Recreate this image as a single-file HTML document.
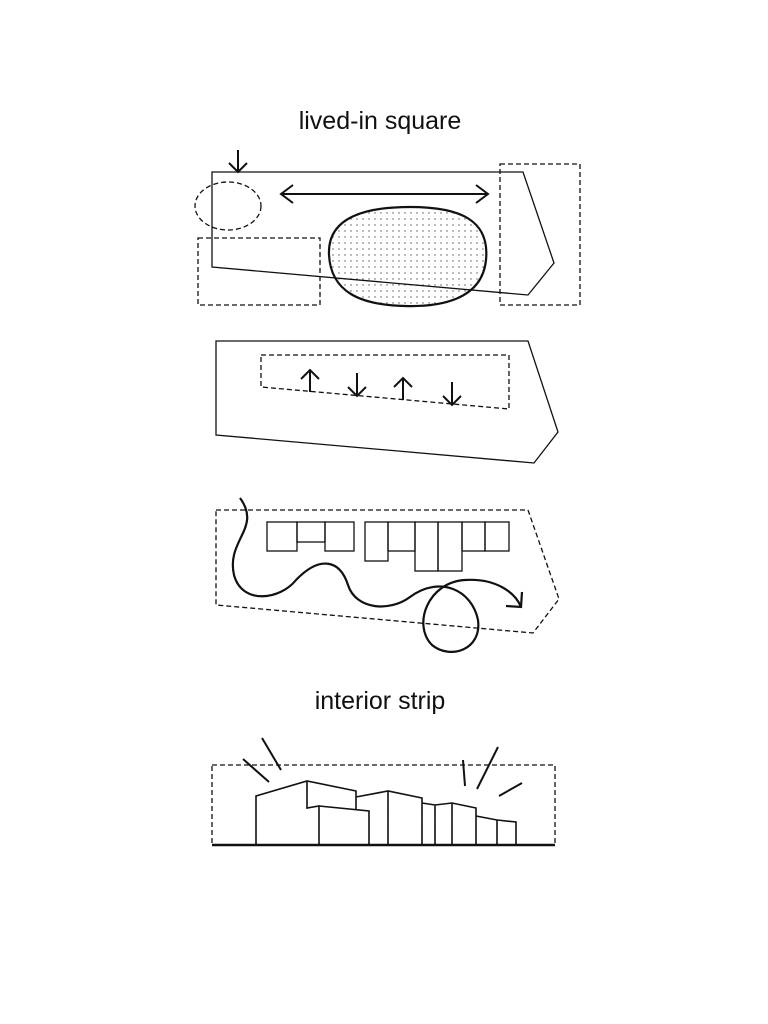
<!DOCTYPE html>
<html><head><style>
body{margin:0;background:#fff;width:768px;height:1024px;overflow:hidden}
svg{display:block}
text{font-family:"Liberation Sans",sans-serif;font-size:25px;fill:#111}
</style></head><body>
<svg width="768" height="1024" viewBox="0 0 768 1024">
<defs>
<pattern id="dots" width="6" height="6" patternUnits="userSpaceOnUse"><circle cx="3" cy="3" r="0.7" fill="#555"/></pattern>
</defs>
<text x="380" y="129" text-anchor="middle">lived-in square</text>
<text x="380" y="709" text-anchor="middle">interior strip</text>
<g fill="none" stroke="#111" stroke-width="1.3">
<!-- diagram 1 -->
<path d="M329,255 C327,215 370,207 410,207 C460,207 490,220 486,260 C482,300 440,307 405,306 C360,305 331,292 329,255Z" fill="url(#dots)" stroke-width="2.2"/>
<polygon points="212,172 523,172 554,263 528,295 212,267"/>
<ellipse cx="228" cy="206" rx="33" ry="24" stroke-dasharray="5,3"/>
<rect x="198" y="238" width="122" height="67" stroke-dasharray="5,3"/>
<rect x="500" y="164" width="80" height="141" stroke-dasharray="5,3"/>
<g stroke-width="2">
<path d="M238,150 V172 M229,163 L238,172 L247,163"/>
<path d="M281,194 H488 M293,185 L281,194 L293,203 M476,185 L488,194 L476,203"/>
</g>
<!-- diagram 2 -->
<polygon points="216,341 528,341 558,432 534,463 216,435"/>
<polygon points="261,355 509,355 509,409 261,387" stroke-dasharray="5,3"/>
<g stroke-width="2">
<path d="M310,392 V370 M301,379 L310,370 L319,379"/>
<path d="M357,373 V396 M348,387 L357,396 L366,387"/>
<path d="M403,400 V378 M394,387 L403,378 L412,387"/>
<path d="M452,382 V405 M443,396 L452,405 L461,396"/>
</g>
<!-- diagram 3 -->
<polygon points="216,510 528,510 559,599 533,633 216,605" stroke-dasharray="5,3"/>
<rect x="267" y="522" width="30" height="29"/>
<rect x="297" y="522" width="28" height="20"/>
<rect x="325" y="522" width="29" height="29"/>
<rect x="365" y="522" width="23" height="39"/>
<rect x="388" y="522" width="27" height="29"/>
<rect x="415" y="522" width="23" height="49"/>
<rect x="438" y="522" width="24" height="49"/>
<rect x="462" y="522" width="23" height="29"/>
<rect x="485" y="522" width="24" height="29"/>
<path stroke-width="2.2" d="M240,498 C262,528 226,540 234,575 C242,605 280,600 296,580 C320,555 340,560 348,585 C356,610 390,612 410,597 C440,575 472,590 478,620 C482,650 450,660 432,645 C412,625 428,582 465,580 C495,578 515,592 521,607 M506,606 L521,607 L522,592"/>
<!-- diagram 4 -->
<rect x="212" y="765" width="343" height="80" stroke-dasharray="5,3"/>
<path stroke-width="2.5" d="M212,845 H555"/>
<g stroke-width="2">
<path d="M243,759 L269,782 M262,738 L281,770 M463,760 L465,786 M498,747 L477,789 M522,783 L499,796"/>
</g>
<path stroke-width="1.6" d="M256,845 V796 L307,781 L356,791 V810 M307,781 V808 L319,806 V845 M319,806 L369,811 V845 M356,797 L388,791 L422,798 V845 M388,791 V845 M422,803 L435,805 L452,803 L476,808 V845 M435,805 V845 M452,803 V845 M476,816 L497,820 L516,822 V845 M497,820 V845"/>
</g>
</svg>
</body></html>
